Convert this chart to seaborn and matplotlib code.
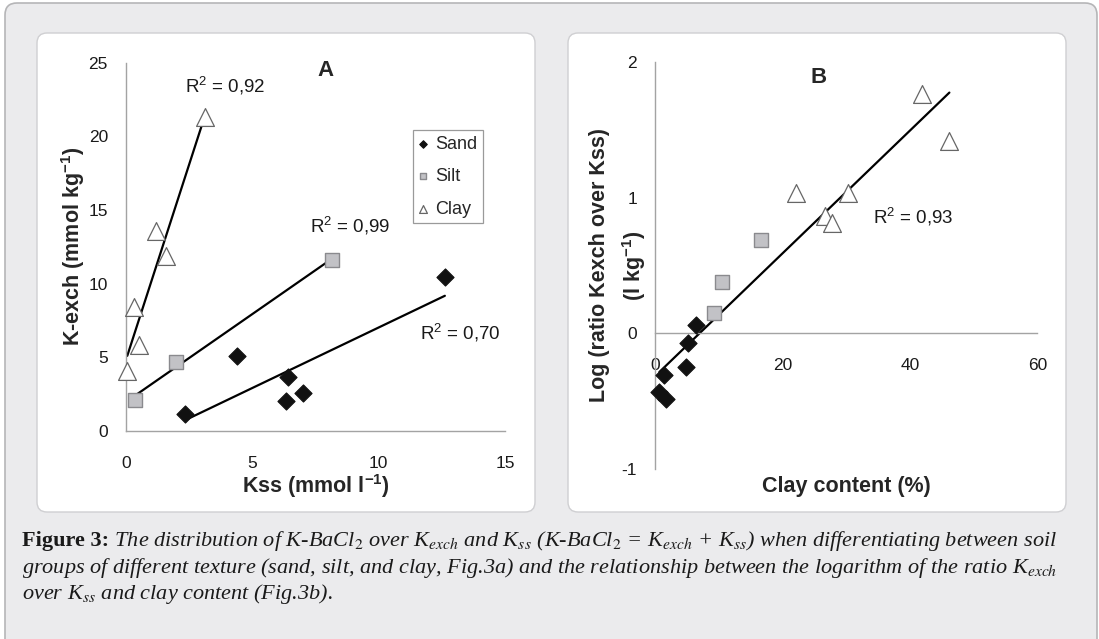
import numpy as np
import pandas as pd
import seaborn as sns
import matplotlib.pyplot as plt
from matplotlib.patches import FancyBboxPatch
from matplotlib.transforms import IdentityTransform

# ---- Panel A: exchangeable K vs solution K, by soil texture ----
sand_kss = [2.33, 4.41, 6.40, 6.33, 7.02, 12.62]
sand_kexch = [1.15, 5.09, 3.64, 2.04, 2.60, 10.48]
silt_kss = [0.36, 1.96, 8.14]
silt_kexch = [2.10, 4.70, 11.60]
clay_kss = [0.05, 0.33, 0.53, 1.19, 1.58, 3.13]
clay_kexch = [4.10, 8.40, 5.84, 13.60, 11.90, 21.30]

# ---- Panel B: log ratio Kexch/Kss vs clay content ----
sand_claypct = [6.43, 5.13, 4.86, 1.46, 0.68, 1.73]
sand_logratio = [0.061, -0.074, -0.248, -0.309, -0.430, -0.486]
silt_claypct = [9.21, 10.57, 16.64]
silt_logratio = [0.152, 0.380, 0.687]
clay_claypct = [22.08, 26.68, 27.73, 30.34, 41.95, 46.20]
clay_logratio = [1.030, 0.863, 0.814, 1.030, 1.763, 1.415]

groups = ["Sand", "Silt", "Clay"]
r2_a = ["0,70", "0,99", "0,92"]      # sand, silt, clay
r2_a_pos = [(11.63, 6.23), (7.28, 13.49), (2.33, 22.97)]
r2_b = "0,93"
r2_b_pos = (34.26, 0.806)

xticks_a = [0, 5, 10, 15]
yticks_a = [0, 5, 10, 15, 20, 25]
xticks_b = [0, 20, 40, 60]
yticks_b = [-1, 0, 1, 2]

df_a = pd.DataFrame({
    "kss": sand_kss + silt_kss + clay_kss,
    "kexch": sand_kexch + silt_kexch + clay_kexch,
    "texture": ["Sand"] * len(sand_kss) + ["Silt"] * len(silt_kss) + ["Clay"] * len(clay_kss),
})
df_b = pd.DataFrame({
    "clay": sand_claypct + silt_claypct + clay_claypct,
    "logratio": sand_logratio + silt_logratio + clay_logratio,
    "texture": ["Sand"] * len(sand_claypct) + ["Silt"] * len(silt_claypct) + ["Clay"] * len(clay_claypct),
})

sns.set_style("white")
plt.rcParams["font.family"] = ["Liberation Sans", "DejaVu Sans"]
plt.rcParams["mathtext.fontset"] = "custom"
plt.rcParams["mathtext.rm"] = "Liberation Sans"
plt.rcParams["mathtext.it"] = "Liberation Sans:italic"
plt.rcParams["mathtext.bf"] = "Liberation Sans:bold"
plt.rcParams["axes.unicode_minus"] = False

W, H = 1099, 639
fig = plt.figure(figsize=(W / 100, H / 100), dpi=100, facecolor="white")

def px_axes(left, top, right, bottom):
    return fig.add_axes([left / W, 1 - bottom / H, (right - left) / W, (bottom - top) / H])

# page card and the two white panels (pixel coordinates, origin bottom-left)
card = FancyBboxPatch((5, H - 660), 1092, 657, boxstyle="round,pad=0,rounding_size=12",
                      transform=IdentityTransform(), fc="#ebebed", ec="#b5b5b7", lw=1.2, zorder=-3)
fig.add_artist(card)
for (l, t, r, b) in [(37, 33, 535, 512), (568, 33, 1066, 512)]:
    panel = FancyBboxPatch((l, H - b), r - l, b - t, boxstyle="round,pad=0,rounding_size=10",
                           transform=IdentityTransform(), fc="white", ec="#cfcfd2", lw=1.0, zorder=-2)
    fig.add_artist(panel)

marker_style = {
    "Sand": dict(marker="D", s=76, color="#111111", edgecolor="#111111", linewidth=0.8),
    "Silt": dict(marker="s", s=106, color="#c2c2c6", edgecolor="#8a8a8e", linewidth=1.0),
    "Clay": dict(marker="^", s=165, color="white", edgecolor="#666666", linewidth=0.9),
}
axis_grey = "#a3a3a3"
tick_size = 12.5
label_size = 15.5

def style_axes(ax):
    sns.despine(ax=ax)
    for side in ("left", "bottom"):
        ax.spines[side].set_color(axis_grey)
        ax.spines[side].set_linewidth(1.0)
    ax.tick_params(direction="out", length=5.5, width=1.0, color=axis_grey,
                   labelsize=tick_size, labelcolor="#1a1a1a")
    ax.tick_params(axis="y", pad=7.5)
    ax.tick_params(axis="x", pad=12.5)
    ax.set_facecolor("none")

# ---------------- Panel A ----------------
ax_a = px_axes(126, 62.7, 505, 431)
for g in groups:
    sub = df_a[df_a.texture == g]
    sns.regplot(data=sub, x="kss", y="kexch", scatter=False, ci=None, ax=ax_a,
                color="black", line_kws=dict(lw=1.6, zorder=2))
for g in groups:
    sub = df_a[df_a.texture == g]
    sns.scatterplot(data=sub, x="kss", y="kexch", ax=ax_a, label=g, clip_on=False,
                    zorder=3, legend=False, **marker_style[g])
ax_a.set_xlim(0, 15)
ax_a.set_ylim(0, 25)
ax_a.set_xticks(xticks_a)
ax_a.set_yticks(yticks_a)
style_axes(ax_a)
ax_a.set_xlabel("Kss (mmol l$^{\\mathbf{-1}}$)", fontsize=label_size, fontweight="bold")
ax_a.xaxis.label.set_va("baseline")
ax_a.xaxis.set_label_coords(0.5, -0.1675)
ax_a.set_ylabel("K-exch (mmol kg$^{\\mathbf{-1}}$)", fontsize=label_size, fontweight="bold")
ax_a.yaxis.label.set_va("baseline")
ax_a.yaxis.set_label_coords(-0.1214, 0.5)
ax_a.text(0.526, 0.964, "A", transform=ax_a.transAxes, ha="center", va="baseline",
          fontsize=16, fontweight="bold")
for txt, (x, y) in zip(r2_a, r2_a_pos):
    ax_a.text(x, y, "R$^2$ = " + txt, ha="left", va="baseline", fontsize=13.5, color="#1a1a1a")

handles = ax_a.collections[-3:]
leg = ax_a.legend(handles=handles, labels=groups, loc="upper left",
                  bbox_to_anchor=(0.758, 0.817), borderaxespad=0, frameon=True,
                  fancybox=False, edgecolor="#9a9a9a", framealpha=1, fontsize=13,
                  markerscale=0.44, scatterpoints=1, handlelength=0.45, handletextpad=0.45,
                  labelspacing=0.85, borderpad=0.32)
leg.get_frame().set_linewidth(0.9)

# ---------------- Panel B ----------------
ax_b = px_axes(655, 61.7, 1037.3, 469.3)
sns.regplot(data=df_b, x="clay", y="logratio", scatter=False, ci=None, ax=ax_b,
            color="black", line_kws=dict(lw=1.6, zorder=2))
for g in groups:
    sub = df_b[df_b.texture == g]
    sns.scatterplot(data=sub, x="clay", y="logratio", ax=ax_b, clip_on=False,
                    zorder=3, legend=False, **marker_style[g])
ax_b.set_xlim(0, 60)
ax_b.set_ylim(-1, 2)
ax_b.set_xticks(xticks_b)
ax_b.set_yticks(yticks_b)
style_axes(ax_b)
ax_b.spines["bottom"].set_position(("data", 0))
ax_b.set_xlabel("Clay content (%)", fontsize=label_size, fontweight="bold")
ax_b.xaxis.label.set_va("baseline")
ax_b.xaxis.set_label_coords(0.5, -0.055)
ax_b.set_ylabel("Log (ratio Kexch over Kss)", fontsize=label_size, fontweight="bold")
ax_b.yaxis.label.set_va("baseline")
ax_b.yaxis.set_label_coords(-0.1308, 0.5)
ax_b.text(-0.0366, 0.5, "(l kg$^{\\mathbf{-1}}$)", transform=ax_b.transAxes, rotation=90,
          rotation_mode="anchor", ha="center", va="baseline", fontsize=label_size,
          fontweight="bold")
ax_b.text(0.428, 0.947, "B", transform=ax_b.transAxes, ha="center", va="baseline",
          fontsize=16, fontweight="bold")
ax_b.text(r2_b_pos[0], r2_b_pos[1], "R$^2$ = " + r2_b, ha="left", va="baseline",
          fontsize=13.5, color="#1a1a1a")

# ---------------- Caption ----------------
cap_x = 22
cap_right = 1052
cap_baselines = [546.0, 573.0, 599.5]
cap_lines = [
    " The distribution of K-BaCl$_2$ over K$_{exch}$ and K$_{ss}$ (K-BaCl$_2$ = K$_{exch}$ + K$_{ss}$) "
    "when differentiating between soil",
    "groups of different texture (sand, silt, and clay, Fig.3a) and the relationship between the "
    "logarithm of the ratio K$_{exch}$",
    "over K$_{ss}$ and clay content (Fig.3b).",
]
italic = dict(family="Liberation Serif", style="italic", math_fontfamily="stix",
              color="#1a1a1a", va="baseline", ha="left")
bold = dict(family="Liberation Serif", fontweight="bold", color="#1a1a1a",
            va="baseline", ha="left")

# size the caption so that its first line spans the card width
base = 13.0
head = fig.text(cap_x / W, 1 - cap_baselines[0] / H, "Figure 3:", fontsize=base, **bold)
fig.canvas.draw()
r = fig.canvas.get_renderer()
first = fig.text(head.get_window_extent(r).x1 / W, 1 - cap_baselines[0] / H, cap_lines[0],
                 fontsize=base, **italic)
span = first.get_window_extent(r).x1 - cap_x
size = base * (cap_right - cap_x) / span
head.set_fontsize(size)
first.set_fontsize(size)
first.set_x(head.get_window_extent(r).x1 / W)
for line, yb in zip(cap_lines[1:], cap_baselines[1:]):
    fig.text(cap_x / W, 1 - yb / H, line, fontsize=size, **italic)

fig.savefig("out.png", dpi=100, facecolor=fig.get_facecolor())
